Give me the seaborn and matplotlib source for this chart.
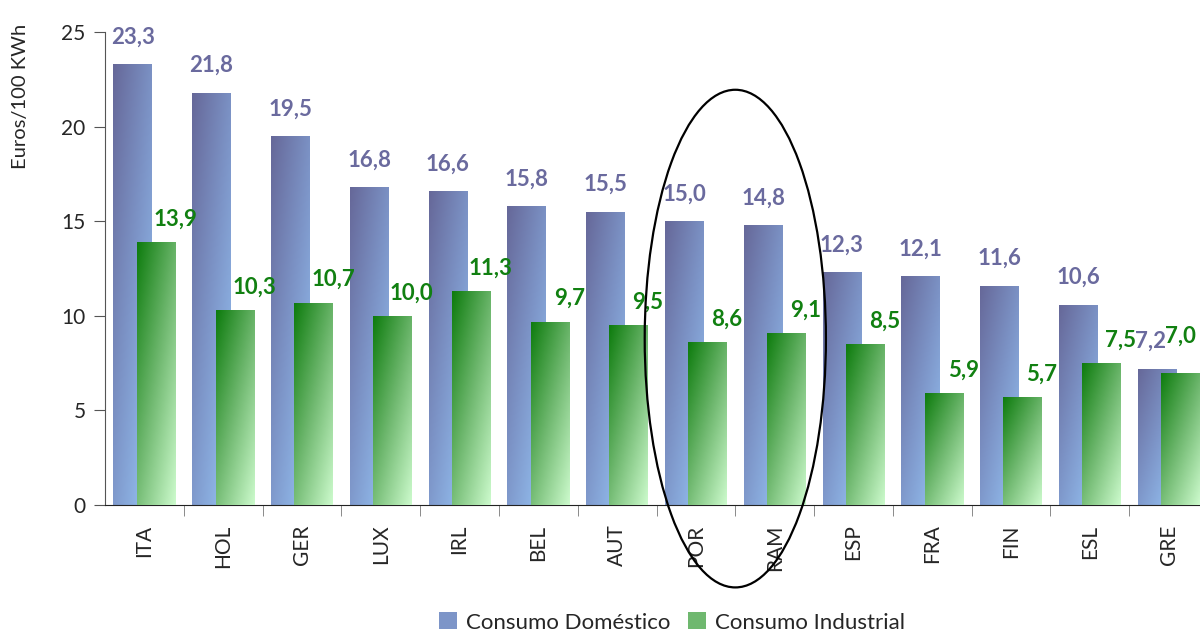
import numpy as np
import pandas as pd
import matplotlib
matplotlib.use("Agg")
import matplotlib.pyplot as plt
import seaborn as sns
from matplotlib.patches import Ellipse, Patch
from matplotlib.colors import LinearSegmentedColormap

sns.set_style("white")
plt.rcParams['font.family'] = ['Lato', 'DejaVu Sans']

# data
paises = ['ITA', 'HOL', 'GER', 'LUX', 'IRL', 'BEL', 'AUT', 'POR', 'RAM',
          'ESP', 'FRA', 'FIN', 'ESL', 'GRE']
domestico = [23.3, 21.8, 19.5, 16.8, 16.6, 15.8, 15.5, 15.0, 14.8,
             12.3, 12.1, 11.6, 10.6, 7.2]
industrial = [13.9, 10.3, 10.7, 10.0, 11.3, 9.7, 9.5, 8.6, 9.1,
              8.5, 5.9, 5.7, 7.5, 7.0]
series = ['Consumo Doméstico', 'Consumo Industrial']

df = pd.DataFrame({
    'Pais': paises * 2,
    'Valor': domestico + industrial,
    'Tipo': [series[0]] * len(paises) + [series[1]] * len(paises),
})

blue_cmap = LinearSegmentedColormap.from_list('b', ['#666899', '#7d95c8', '#96c4f4'])
green_cmap = LinearSegmentedColormap.from_list('g', ['#0e7c0e', '#6fb86f', '#ccfacc'])
label_col = {series[0]: '#6a6a9e', series[1]: '#118011'}

fig = plt.figure(figsize=(12, 6.41), dpi=100)
ax = fig.add_axes([0.0875, 0.212, 0.9192, 0.738])

sns.barplot(data=df, x='Pais', y='Valor', hue='Tipo', hue_order=series,
            order=paises, palette=['#7d95c8', '#6fb86f'], errorbar=None,
            ax=ax, legend=False)

# overlapping bars with a diagonal gradient
bw, off = 0.49, 0.148
grad_u, grad_v = np.meshgrid(np.linspace(0, 1, 40), np.linspace(0, 1, 120))
grad = 0.45 * grad_u + 0.55 * grad_v
n = len(paises)
for i, p in enumerate(ax.patches[:2 * n]):
    s = i // n
    cx = p.get_x() + p.get_width() / 2
    cat = round(cx)
    newc = cat + (-off if s == 0 else off)
    p.set_x(newc - bw / 2)
    p.set_width(bw)
    p.set_facecolor('none')
    p.set_edgecolor('none')
    h = p.get_height()
    cmap = blue_cmap if s == 0 else green_cmap
    im = ax.imshow(grad, cmap=cmap, aspect='auto', origin='upper',
                   extent=[newc - bw / 2, newc + bw / 2, 0, h],
                   zorder=2 + s, interpolation='bilinear')
    im.set_clip_path(p)
    txt = f'{h:.1f}'.replace('.', ',')
    last = cat == n - 1
    if s == 0:
        ax.annotate(txt, (newc - (0.08 if last else 0), h), xytext=(0, 12),
                    textcoords='offset points', ha='center', va='bottom',
                    fontsize=16, fontweight='bold',
                    color=label_col[series[0]], zorder=5)
    else:
        lx = newc if last else newc + bw / 2
        ax.annotate(txt, (lx, h), xytext=(0, 9 if not last else 19),
                    textcoords='offset points', ha='center', va='bottom',
                    fontsize=16, fontweight='bold',
                    color=label_col[series[1]], zorder=5)
ax.set_xlim(-0.5, n - 0.5)
ax.set_ylim(0, 25)

# axes styling
for side in ['top', 'right']:
    ax.spines[side].set_visible(False)
ax.spines['left'].set_color('#555555')
ax.spines['bottom'].set_color('#222222')
ax.set_yticks([0, 5, 10, 15, 20, 25])
ax.tick_params(axis='y', direction='out', length=8, color='#555555',
               labelsize=15, left=True, pad=6)
ax.set_xticks(range(n))
ax.set_xticklabels(paises, rotation=90, fontsize=15)
ax.set_xticks(np.arange(0.5, n - 0.5, 1), minor=True)
ax.tick_params(axis='x', which='major', length=0, pad=14)
ax.tick_params(axis='x', which='minor', direction='out', length=8, color='#777777',
               bottom=True)
ax.set_xlabel('')
ax.set_ylabel('Euros/100 KWh', fontsize=14.5)
ax.yaxis.set_label_coords(-0.077, 0.865)
ax.yaxis.label.set_va('center')

# ellipse around POR and RAM
ax.add_patch(Ellipse((7.5, 8.8), width=2.3, height=26.3, fill=False,
                     edgecolor='black', linewidth=1.6, clip_on=False, zorder=6))

handles = [Patch(facecolor='#7d95c8', edgecolor='none'),
           Patch(facecolor='#6fb86f', edgecolor='none')]
fig.legend(handles, series, loc='lower center', bbox_to_anchor=(0.56, -0.018),
           ncol=2, frameon=False, fontsize=16, handlelength=0.8, handleheight=0.8,
           handletextpad=0.4, columnspacing=0.8)

fig.savefig('out.png', dpi=100)
